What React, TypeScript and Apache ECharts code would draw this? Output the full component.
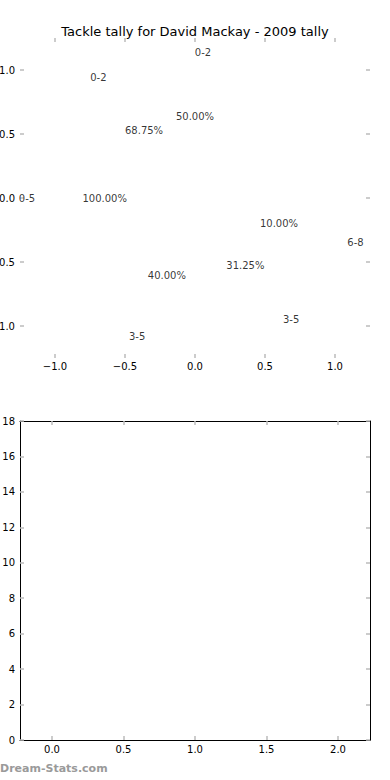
import React, { useEffect, useRef } from "react";
import * as echarts from "echarts";

const titleText = "Tackle tally for David Mackay - 2009 tally";
const watermark = "Dream-Stats.com";

// Pie label texts and their positions (data coordinates of the top panel)
const labelTexts = ["0-2", "0-2", "50.00%", "68.75%", "0-5", "100.00%", "10.00%", "6-8", "31.25%", "40.00%", "3-5", "3-5"];
const labelX = [0.057, -0.69, 0.0, -0.364, -1.2, -0.645, 0.6, 1.146, 0.36, -0.201, 0.687, -0.413];
const labelY = [1.133, 0.943, 0.64, 0.531, 0.0, 0.0, -0.198, -0.349, -0.531, -0.609, -0.948, -1.083];

const topTicks = [-1.0, -0.5, 0.0, 0.5, 1.0];
const bottomXTicks = [0.0, 0.5, 1.0, 1.5, 2.0];
const bottomYMin = 0;
const bottomYMax = 18;
const bottomYStep = 2;

const FONT = "DejaVu Sans";
const TICK_COLOR = "#bbbbbb";

const fmt = (v: number) => (v < 0 ? "\u2212" : "") + Math.abs(v).toFixed(1);

export default function App() {
  const ref = useRef<HTMLDivElement>(null);
  useEffect(() => {
    if (!ref.current) return;
    const chart = echarts.init(ref.current, undefined, { renderer: "svg" });
    const tick = (vals?: number[]) => ({
      show: true,
      inside: true,
      length: 4,
      lineStyle: { color: TICK_COLOR, width: 1.5 },
      ...(vals ? { customValues: vals } : {}),
    });
    const lbl = (vals: number[] | undefined, margin: number, show = true) => ({
      show,
      margin,
      fontSize: 10,
      color: "#000",
      fontFamily: FONT,
      ...(vals ? { customValues: vals } : {}),
    });
    const noSplit = { show: false };
    const option: any = {
      animation: false,
      backgroundColor: "#fff",
      title: {
        text: titleText,
        left: "center",
        top: 20,
        textStyle: { fontSize: 13, fontWeight: "normal", color: "#000", fontFamily: FONT },
      },
      grid: [
        { left: 20, top: 38, width: 350, height: 320, containLabel: false, outerBoundsMode: "none" },
        { left: 20, top: 421, width: 350, height: 319, containLabel: false, outerBoundsMode: "none" },
      ],
      xAxis: [
        {
          gridIndex: 0, type: "value", position: "bottom", min: -1.25, max: 1.25,
          axisLine: { show: false, onZero: false }, axisTick: tick(topTicks),
          axisLabel: { ...lbl(topTicks, 3), formatter: fmt }, splitLine: noSplit,
        },
        {
          gridIndex: 0, type: "value", position: "top", min: -1.25, max: 1.25,
          axisLine: { show: false, onZero: false }, axisTick: tick(topTicks),
          axisLabel: lbl(topTicks, 3, false), splitLine: noSplit,
        },
        {
          gridIndex: 1, type: "value", position: "bottom", min: -0.224, max: 2.224,
          axisLine: { show: true, onZero: false, lineStyle: { color: "#000", width: 1 } },
          axisTick: tick(bottomXTicks),
          axisLabel: { ...lbl(bottomXTicks, 4), formatter: fmt }, splitLine: noSplit,
        },
        {
          gridIndex: 1, type: "value", position: "top", min: -0.224, max: 2.224,
          axisLine: { show: true, onZero: false, lineStyle: { color: "#000", width: 1 } },
          axisTick: tick(bottomXTicks),
          axisLabel: lbl(bottomXTicks, 3, false), splitLine: noSplit,
        },
      ],
      yAxis: [
        {
          gridIndex: 0, type: "value", position: "left", min: -1.25, max: 1.25,
          axisLine: { show: false, onZero: false }, axisTick: tick(topTicks),
          axisLabel: { ...lbl(topTicks, 5), formatter: fmt }, splitLine: noSplit,
        },
        {
          gridIndex: 0, type: "value", position: "right", min: -1.25, max: 1.25,
          axisLine: { show: false, onZero: false }, axisTick: tick(topTicks),
          axisLabel: lbl(topTicks, 5, false), splitLine: noSplit,
        },
        {
          gridIndex: 1, type: "value", position: "left", min: bottomYMin, max: bottomYMax, interval: bottomYStep,
          axisLine: { show: true, onZero: false, lineStyle: { color: "#000", width: 1 } },
          axisTick: tick(),
          axisLabel: lbl(undefined, 5), splitLine: noSplit,
        },
        {
          gridIndex: 1, type: "value", position: "right", min: bottomYMin, max: bottomYMax, interval: bottomYStep,
          axisLine: { show: true, onZero: false, lineStyle: { color: "#000", width: 1 } },
          axisTick: tick(),
          axisLabel: lbl(undefined, 5, false), splitLine: noSplit,
        },
      ],
      series: [
        {
          type: "scatter",
          xAxisIndex: 0,
          yAxisIndex: 0,
          symbolSize: 1,
          itemStyle: { color: "rgba(0,0,0,0)" },
          silent: true,
          data: labelTexts.map((t, i) => ({ value: [labelX[i], labelY[i]], name: t })),
          label: {
            show: true,
            position: "inside",
            formatter: (p: any) => p.name,
            fontSize: 10,
            color: "#000",
            fontFamily: FONT,
          },
        },
        {
          type: "scatter",
          xAxisIndex: 2,
          yAxisIndex: 2,
          data: [],
        },
      ],
      graphic: [
        {
          type: "text",
          left: 0,
          top: 763,
          style: {
            text: watermark,
            fontSize: 11,
            fontWeight: "bold",
            fill: "#9a9a9a",
            fontFamily: FONT,
          },
        },
      ],
    };
    chart.setOption(option);
    return () => chart.dispose();
  }, []);
  return (
    <div
      ref={ref}
      style={{ position: "absolute", left: 0, top: 0, width: 390, height: 780 }}
    />
  );
}
